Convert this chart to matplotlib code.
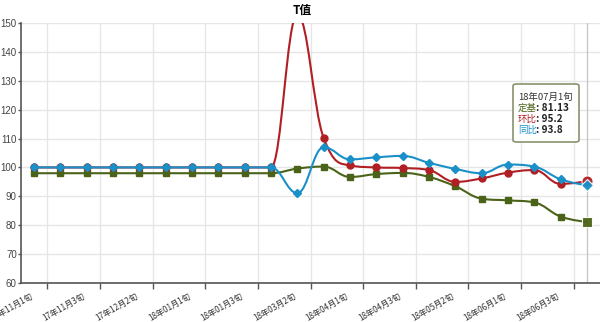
import numpy as np
import matplotlib
matplotlib.use("Agg")
import matplotlib.pyplot as plt
from matplotlib.path import Path
from matplotlib.patches import PathPatch, FancyBboxPatch

plt.rcParams['font.family'] = ['Noto Sans CJK SC', 'DejaVu Sans']

categories = ['17年11月1旬', '17年11月2旬', '17年11月3旬', '17年12月1旬', '17年12月2旬',
              '17年12月3旬', '18年01月1旬', '18年01月2旬', '18年01月3旬', '18年03月1旬',
              '18年03月2旬', '18年03月3旬', '18年04月1旬', '18年04月2旬', '18年04月3旬',
              '18年05月1旬', '18年05月2旬', '18年05月3旬', '18年06月1旬', '18年06月2旬',
              '18年06月3旬', '18年07月1旬']
dingji = [98, 98, 98, 98, 98, 98, 98, 98, 98, 98, 99.6, 100.3, 96.7, 97.7, 98.1,
          96.7, 93.5, 89.2, 88.6, 87.9, 83.0, 81.13]
huanbi = [100, 100, 100, 100, 100, 100, 100, 100, 100, 100, 153, 110.2, 100.7, 100.0, 99.8,
          99.1, 95.0, 96.2, 98.2, 99.1, 94.3, 95.2]
tongbi = [100, 100, 100, 100, 100, 100, 100, 100, 100, 100, 91.1, 107.0, 102.8, 103.5, 104.0,
          101.6, 99.5, 98.0, 101.0, 100.3, 95.9, 93.8]

GREEN = '#4b6318'
RED = '#b01f24'
BLUE = '#1a90c8'


def spline(xs, ys, smoothing=1.5):
    """Highcharts style spline as bezier path"""
    n = len(xs)
    left = [(xs[i], ys[i]) for i in range(n)]
    right = [(xs[i], ys[i]) for i in range(n)]
    d = smoothing + 1
    for i in range(1, n - 1):
        px, py = xs[i], ys[i]
        lx, ly = xs[i - 1], ys[i - 1]
        nx, ny = xs[i + 1], ys[i + 1]
        lcx = (smoothing * px + lx) / d
        lcy = (smoothing * py + ly) / d
        rcx = (smoothing * px + nx) / d
        rcy = (smoothing * py + ny) / d
        if rcx != lcx:
            corr = (rcy - lcy) * (rcx - px) / (rcx - lcx) + py - rcy
            lcy += corr
            rcy += corr
        if lcy > ly and lcy > py:
            lcy = max(ly, py)
            rcy = 2 * py - lcy
        elif lcy < ly and lcy < py:
            lcy = min(ly, py)
            rcy = 2 * py - lcy
        if rcy > ny and rcy > py:
            rcy = max(ny, py)
            lcy = 2 * py - rcy
        elif rcy < ny and rcy < py:
            rcy = min(ny, py)
            lcy = 2 * py - rcy
        left[i] = (lcx, lcy)
        right[i] = (rcx, rcy)
    verts = [(xs[0], ys[0])]
    codes = [Path.MOVETO]
    for i in range(1, n):
        verts += [right[i - 1], left[i], (xs[i], ys[i])]
        codes += [Path.CURVE4] * 3
    return Path(verts, codes)


fig = plt.figure(figsize=(6, 3.22), dpi=100)
ax = fig.add_axes([21 / 600, 1 - 283 / 322, 579 / 600, 260 / 322])

x = np.arange(len(categories))

series = [(dingji, GREEN, 's', 4.2), (huanbi, RED, 'o', 5), (tongbi, BLUE, 'D', 3.6)]
for z, (vals, col, mk, ms) in enumerate(series):
    ax.add_patch(PathPatch(spline(x, vals), facecolor='none', edgecolor=col, lw=1.5, zorder=3 + z))
    ax.plot(x[:-1], vals[:-1], linestyle='none', marker=mk, ms=ms, color=col,
            markeredgecolor=col, zorder=3.5 + z)
    ax.plot(x[-1:], vals[-1:], linestyle='none', marker=mk, ms=ms * 1.6, color=col,
            markeredgecolor='#ffffff', markeredgewidth=0.8, alpha=0.95, zorder=3.5 + z)

# crosshair at hovered point
ax.axvline(x[-1], color='#c8c8c8', lw=1, zorder=2)

ax.set_xlim(-0.5, len(categories) - 0.5)
ax.set_ylim(60, 150)
ax.set_yticks(np.arange(60, 151, 10))
ax.set_xticks(x[::2])
ax.set_xticklabels(categories[::2], rotation=30, ha='right', va='top', fontsize=5.9, color='#333333')
ax.set_xticks(np.arange(0.5, len(categories) - 1, 2), minor=True)
ax.tick_params(axis='x', which='major', length=0, pad=6)
ax.tick_params(axis='x', which='minor', length=4, width=1, color='#555555', direction='out')
ax.tick_params(axis='y', length=2.5, width=1, color='#555555', labelsize=7, labelcolor='#444444', pad=0.5)
for lab in ax.get_yticklabels():
    lab.set_family('Liberation Sans')

ax.grid(axis='y', color='#e6e6e6', lw=1)
ax.grid(axis='x', which='minor', color='#e6e6e6', lw=1)
ax.set_axisbelow(True)
for s in ['top', 'right']:
    ax.spines[s].set_visible(False)
for s in ['left', 'bottom']:
    ax.spines[s].set_color('#555555')
    ax.spines[s].set_linewidth(1.2)

fig.text(302 / 600, 1 - 10 / 322, 'T值', ha='center', va='center', fontsize=8.5, fontweight='bold')


# tooltip
def px(xp, yp):
    return xp / 600, 1 - yp / 322


bx0, by0 = px(513, 142)
bx1, by1 = px(579, 84)
fig.patches.append(FancyBboxPatch((bx0, by0), bx1 - bx0, by1 - by0,
                                  boxstyle='round,pad=0,rounding_size=0.006',
                                  transform=fig.transFigure, facecolor='#ffffff', alpha=0.92,
                                  edgecolor='#7d8a62', lw=1.2, zorder=10))
fig.text(*px(518, 97), categories[-1], fontsize=6.8, color='#333333', va='center', zorder=11)
rows = [('定基', dingji[-1], GREEN, 108), ('环比', huanbi[-1], RED, 119), ('同比', tongbi[-1], BLUE, 130)]
for name, v, col, yp in rows:
    fig.text(*px(518, yp), name, fontsize=6.8, color=col, va='center', zorder=11)
    fig.text(*px(536, yp), ': ' + str(v), fontsize=7.2, color='#222222', va='center',
             fontweight='bold', zorder=11)

fig.savefig('out.png', dpi=100)
